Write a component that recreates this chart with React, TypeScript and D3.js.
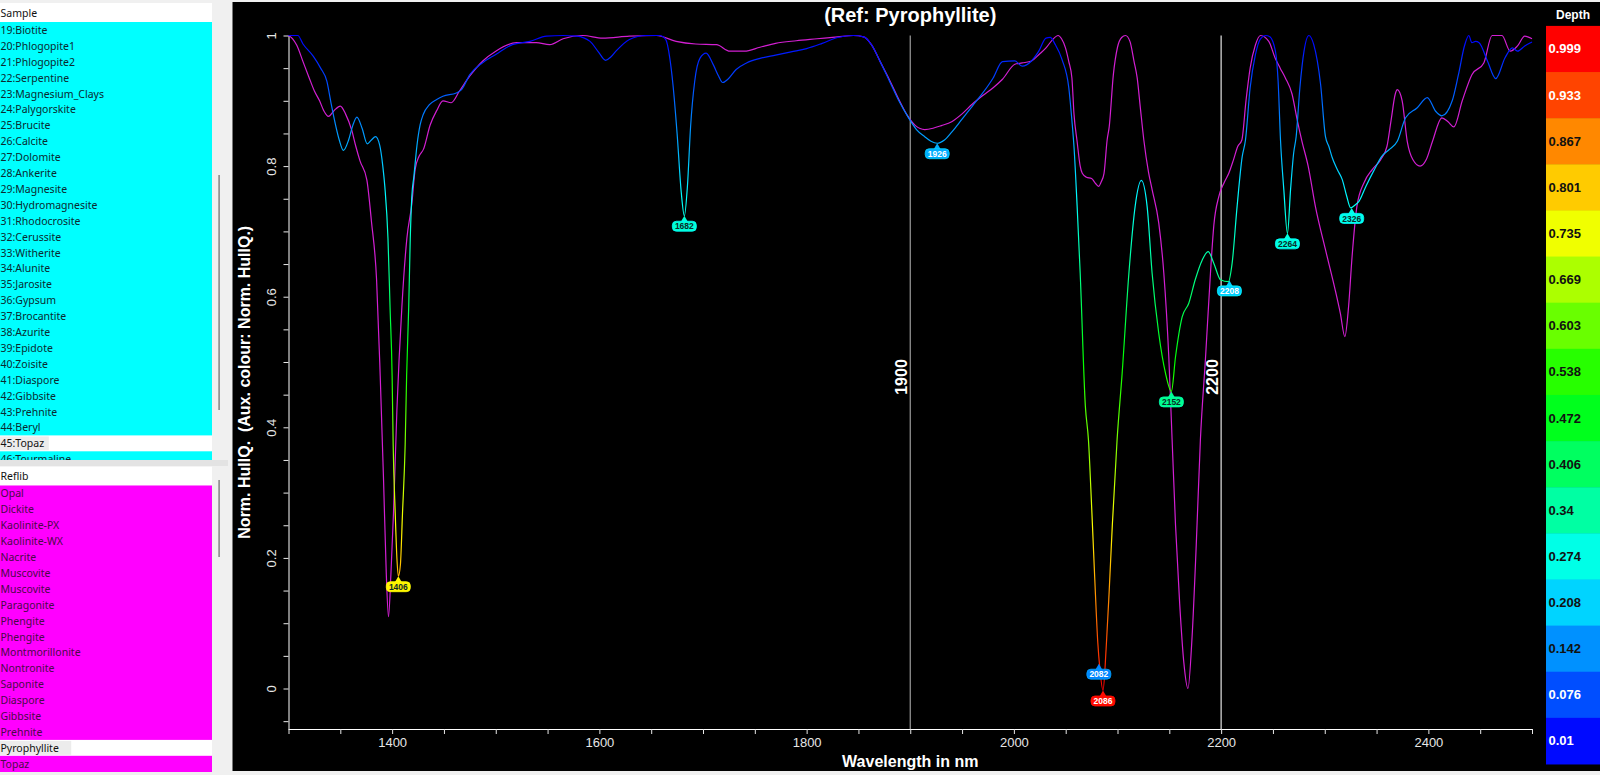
import { useEffect, useMemo, useRef } from 'react'
import * as d3 from 'd3'

const sampleItems = [
  '19:Biotite', '20:Phlogopite1', '21:Phlogopite2', '22:Serpentine', '23:Magnesium_Clays',
  '24:Palygorskite', '25:Brucite', '26:Calcite', '27:Dolomite', '28:Ankerite', '29:Magnesite',
  '30:Hydromagnesite', '31:Rhodocrosite', '32:Cerussite', '33:Witherite', '34:Alunite',
  '35:Jarosite', '36:Gypsum', '37:Brocantite', '38:Azurite', '39:Epidote', '40:Zoisite',
  '41:Diaspore', '42:Gibbsite', '43:Prehnite', '44:Beryl', '45:Topaz', '46:Tourmaline',
]
const reflibItems = [
  'Opal', 'Dickite', 'Kaolinite-PX', 'Kaolinite-WX', 'Nacrite', 'Muscovite', 'Muscovite',
  'Paragonite', 'Phengite', 'Phengite', 'Montmorillonite', 'Nontronite', 'Saponite', 'Diaspore',
  'Gibbsite', 'Prehnite', 'Pyrophyllite', 'Topaz',
]
const selectedSample = '45:Topaz'
const selectedRef = 'Pyrophyllite'

// sample spectrum (coloured by depth)
const sampleNm = [
  1300, 1309, 1314, 1324, 1331, 1337, 1341, 1345, 1349, 1353, 1358, 1362, 1366, 1371, 1376, 1380,
  1384, 1388, 1391, 1393, 1396, 1398, 1400, 1401, 1403, 1404.6, 1406, 1408, 1410, 1412.6, 1414,
  1416, 1417.5, 1419, 1421, 1424, 1427, 1430, 1436, 1443, 1449, 1462, 1467, 1475, 1487, 1500,
  1516, 1533, 1549, 1565, 1578, 1591, 1599, 1606, 1611, 1616, 1629, 1645, 1658, 1664, 1668, 1671,
  1675, 1679, 1682, 1685, 1688, 1692, 1697, 1703, 1710, 1715, 1719, 1724, 1732, 1742, 1755, 1770,
  1785, 1800, 1815, 1830, 1845, 1855, 1863, 1871, 1880, 1889, 1898, 1906, 1914, 1920, 1926, 1933,
  1940, 1950, 1960, 1970, 1980, 1989, 2001, 2008, 2017, 2024, 2031, 2035, 2040, 2046.5, 2053, 2056,
  2058, 2061, 2064, 2069, 2072, 2075, 2078, 2081, 2083, 2086, 2089, 2092, 2095, 2099.6, 2104.5,
  2111, 2117, 2123, 2128.6, 2133.4, 2139.8, 2146.3, 2152, 2156, 2162.4, 2168.8, 2175, 2181.7,
  2187.5, 2193, 2199.4, 2207, 2210.6, 2215.4, 2220.3, 2223.5, 2228, 2233, 2238, 2243, 2247,
  2252.4, 2255, 2257.3, 2260.5, 2264, 2267, 2270, 2272.4, 2276, 2280, 2284.6, 2289.4, 2296,
  2300.7, 2304, 2307, 2312, 2317, 2321, 2325, 2329, 2333, 2340, 2348, 2355, 2362, 2370, 2378,
  2389, 2399, 2407, 2413, 2423, 2429, 2435, 2439, 2442, 2445.5, 2449, 2457, 2465, 2474, 2481,
  2486, 2493, 2500,
]
const sampleVal = [
  1.0, 1.0, 0.987, 0.968, 0.95, 0.93, 0.897, 0.866, 0.84, 0.824, 0.84, 0.862, 0.875, 0.858, 0.834,
  0.84, 0.845, 0.832, 0.8, 0.768, 0.689, 0.584, 0.479, 0.374, 0.268, 0.2, 0.172, 0.19, 0.268, 0.374,
  0.479, 0.584, 0.689, 0.753, 0.784, 0.832, 0.863, 0.879, 0.894, 0.902, 0.907, 0.912, 0.917, 0.94,
  0.958, 0.971, 0.986, 0.991, 0.999, 1.0, 0.999, 0.991, 0.975, 0.962, 0.967, 0.976, 0.994, 1.0,
  1.0, 0.994, 0.965, 0.925, 0.85, 0.76, 0.724, 0.77, 0.86, 0.93, 0.965, 0.973, 0.955, 0.938,
  0.928, 0.933, 0.948, 0.958, 0.965, 0.97, 0.975, 0.98, 0.988, 0.997, 1.0, 0.998, 0.985, 0.96,
  0.93, 0.9, 0.875, 0.856, 0.845, 0.838, 0.835, 0.84, 0.852, 0.872, 0.892, 0.912, 0.935, 0.96,
  0.961, 0.953, 0.961, 0.976, 0.996, 0.997, 0.986, 0.963, 0.92, 0.87, 0.83, 0.74, 0.636, 0.432,
  0.38, 0.28, 0.17, 0.07, 0.03, -0.003, 0.06, 0.15, 0.25, 0.381, 0.483, 0.636, 0.738, 0.778,
  0.738, 0.636, 0.544, 0.483, 0.455, 0.508, 0.569, 0.59, 0.626, 0.656, 0.669, 0.651, 0.626, 0.623,
  0.651, 0.738, 0.814, 0.84, 0.92, 0.97, 0.995, 1.0, 0.998, 0.976, 0.93, 0.84, 0.764, 0.697, 0.764,
  0.82, 0.845, 0.92, 0.976, 1.0, 0.986, 0.925, 0.845, 0.83, 0.814, 0.795, 0.779, 0.755, 0.736,
  0.74, 0.746, 0.77, 0.795, 0.815, 0.825, 0.838, 0.874, 0.889, 0.905, 0.884, 0.877, 0.9, 0.94,
  0.985, 1.0, 0.989, 0.991, 0.989, 0.961, 0.934, 0.966, 0.981, 0.976, 0.984, 0.99,
]

// reference spectrum: Pyrophyllite
const refNm = [
  1300, 1304, 1308, 1314, 1320, 1325, 1330, 1334, 1338.6, 1344, 1350, 1355, 1361, 1365, 1369,
  1375.6, 1380, 1385, 1388.5, 1391.7, 1394.3, 1396.5, 1398.8, 1401.3, 1404.6, 1409.4, 1414.2,
  1419, 1422.2, 1426, 1430.3, 1436.7, 1443, 1449, 1457, 1465, 1475, 1487.5, 1500, 1520, 1539,
  1552, 1565, 1584, 1603, 1629, 1655, 1674, 1693, 1713, 1726, 1740, 1755, 1770, 1790, 1810, 1830,
  1845, 1855, 1863, 1871, 1880, 1889, 1897, 1905, 1914, 1922, 1930, 1940, 1950, 1960, 1970, 1980,
  1989, 2001, 2008, 2017, 2025, 2031, 2037, 2042.7, 2046, 2049.8, 2053, 2056, 2058, 2061, 2064,
  2066, 2070, 2075, 2079, 2082, 2084, 2087, 2090, 2092, 2096, 2100, 2104, 2107.7, 2112, 2116,
  2119, 2122, 2125.4, 2130, 2133.4, 2139.8, 2144.7, 2149.5, 2152.7, 2156, 2160, 2164, 2168, 2172,
  2176, 2180, 2185, 2189.7, 2193, 2197.7, 2203, 2207.4, 2212, 2216, 2220, 2224, 2228, 2233, 2238,
  2246, 2252, 2257, 2262, 2268.5, 2273, 2278, 2284, 2291, 2300.7, 2310, 2315, 2319.4, 2323,
  2326.4, 2331, 2338, 2346, 2354, 2360, 2364, 2368, 2370, 2374.7, 2379.6, 2385, 2392, 2398, 2404,
  2413, 2419, 2424.6, 2432.7, 2442, 2453.5, 2461.5, 2471, 2479, 2486, 2493, 2500,
]
const refVal = [
  1.0, 0.995, 0.985, 0.96, 0.935, 0.915, 0.9, 0.885, 0.876, 0.885, 0.892, 0.88, 0.855, 0.83, 0.808,
  0.779, 0.716, 0.626, 0.479, 0.321, 0.179, 0.11, 0.174, 0.268, 0.426, 0.584, 0.689, 0.742, 0.795,
  0.815, 0.826, 0.863, 0.885, 0.9, 0.897, 0.915, 0.938, 0.961, 0.976, 0.989, 0.989, 0.986, 0.995,
  1.0, 0.996, 0.999, 1.0, 0.991, 0.987, 0.986, 0.976, 0.976, 0.982, 0.988, 0.992, 0.995, 0.998,
  1.0, 0.998, 0.985, 0.96, 0.932, 0.902, 0.878, 0.862, 0.856, 0.858, 0.862, 0.868, 0.88, 0.895,
  0.908, 0.92, 0.933, 0.956, 0.958, 0.961, 0.972, 0.981, 0.993, 1.0, 0.995, 0.981, 0.96, 0.935,
  0.88, 0.838, 0.8, 0.789, 0.783, 0.781, 0.773, 0.769, 0.775, 0.789, 0.84, 0.86, 0.94, 0.982,
  0.997, 1.0, 0.991, 0.96, 0.935, 0.89, 0.84, 0.79, 0.764, 0.713, 0.636, 0.508, 0.381, 0.25, 0.13,
  0.04, 0.0, 0.08, 0.22, 0.381, 0.508, 0.636, 0.71, 0.753, 0.775, 0.789, 0.81, 0.83, 0.84, 0.9,
  0.95, 0.985, 1.0, 0.991, 0.966, 0.95, 0.935, 0.91, 0.874, 0.838, 0.8, 0.738, 0.672, 0.611, 0.575,
  0.539, 0.585, 0.662, 0.738, 0.775, 0.795, 0.81, 0.83, 0.87, 0.91, 0.917, 0.9, 0.838, 0.81, 0.8,
  0.81, 0.838, 0.874, 0.868, 0.86, 0.9, 0.94, 0.958, 1.0, 1.0, 0.976, 0.984, 0.999, 0.995,
]

// absorption feature markers
const markerNm = [1406, 1682, 1926, 2082, 2086, 2152, 2208, 2264, 2326]
const markerVal = [0.172, 0.724, 0.835, 0.038, -0.003, 0.455, 0.625, 0.697, 0.736]
const markerDepth = [0.76, 0.29, 0.17, 0.13, 0.99, 0.36, 0.2, 0.28, 0.27]

const depthTicks = [
  0.999, 0.933, 0.867, 0.801, 0.735, 0.669, 0.603, 0.538, 0.472, 0.406, 0.34, 0.274, 0.208, 0.142,
  0.076, 0.01,
]
const xMajorTicks = [1400, 1600, 1800, 2000, 2200, 2400]
const guideNm = [1900, 2200]

const W = 1600
const H = 775
const box = { left: 288.5, right: 1532, top: 35.5, bottom: 729 }
const plotFont = '"Liberation Sans", Arial, sans-serif'
const listFont = '"Noto Sans", "Open Sans", sans-serif'

function depthColor(d: number): string {
  return d3.hsl(240 * (1 - Math.max(0, Math.min(1, d))), 1, 0.5).formatHex()
}

function ListPanel({ top, title, items, selected, fill, textColor, thumb }: {
  top: number
  title: string
  items: string[]
  selected: string
  fill: string
  textColor: string
  thumb: [number, number]
}) {
  const rowH = 15.9
  const headH = 19
  const bottom = top === 3 ? 460 : 772
  const clipId = `clip-${title}`
  return (
    <g>
      <clipPath id={clipId}>
        <rect x={0} y={top} width={212} height={bottom - top} />
      </clipPath>
      <g clipPath={`url(#${clipId})`}>
        <rect x={0} y={top} width={212} height={headH} fill="#ffffff" />
        <text x={0.5} y={top + headH / 2} dominantBaseline="central" fontSize={10.5} fontFamily={listFont} fill="#111">
          {title}
        </text>
        <rect x={0} y={top + headH} width={212} height={bottom - top - headH} fill={fill} />
        {items.map((name, i) => {
          const y0 = top + headH + i * rowH
          const sel = name === selected
          return (
            <g key={`${name}-${i}`}>
              {sel && <rect x={0} y={y0} width={212} height={rowH} fill="#ffffff" />}
              {sel && <rect x={0} y={y0 + 1} width={name.length * 5.6 + 4} height={rowH - 2} fill="#ececec" />}
              <text x={0.5} y={y0 + rowH / 2} dominantBaseline="central" fontSize={10.5} fontFamily={listFont} fill={sel ? '#111' : textColor}>
                {name}
              </text>
            </g>
          )
        })}
      </g>
      <rect x={212} y={top} width={16} height={bottom - top} fill="#f0f0f0" />
      <rect x={218.3} y={thumb[0]} width={1.6} height={thumb[1] - thumb[0]} fill="#8a8a8a" />
    </g>
  )
}

export default function App() {
  const xAxisRef = useRef<SVGGElement | null>(null)
  const yAxisRef = useRef<SVGGElement | null>(null)

  const x = useMemo(() => d3.scaleLinear().domain([1300, 2500]).range([box.left, box.right]), [])
  const y = useMemo(() => d3.scaleLinear().domain([-0.062, 1]).range([box.bottom, box.top]), [])

  const samplePath = useMemo(() => {
    const line = d3
      .line<number>()
      .x((_, i) => x(sampleNm[i]))
      .y((d) => y(d))
      .curve(d3.curveMonotoneX)
    return line(sampleVal) ?? ''
  }, [x, y])

  const refPath = useMemo(() => {
    const line = d3
      .line<number>()
      .x((_, i) => x(refNm[i]))
      .y((d) => y(d))
      .curve(d3.curveMonotoneX)
    return line(refVal) ?? ''
  }, [x, y])

  useEffect(() => {
    if (!xAxisRef.current || !yAxisRef.current) return
    const xTickVals = d3.range(0, 25).map((i) => 1300 + i * 50)
    const xAxis = d3
      .axisBottom(x)
      .tickValues(xTickVals)
      .tickSize(5)
      .tickPadding(4)
      .tickFormat((d) => (xMajorTicks.includes(+d) ? String(d) : ''))
    const gx = d3.select(xAxisRef.current)
    gx.call(xAxis)
    gx.select('.domain').attr('stroke', '#ffffff').attr('d', `M${box.left},0.5H${box.right}`)
    gx.selectAll('.tick line').attr('stroke', '#e8e8e8')
    gx.selectAll('.tick text').attr('fill', '#e6e6e6').attr('font-size', 13).attr('font-family', plotFont)

    const yTickVals = d3.range(-1, 21).map((i) => +(i * 0.05).toFixed(2))
    const yAxis = d3
      .axisLeft(y)
      .tickValues(yTickVals)
      .tickSize(5)
      .tickFormat((d) => {
        const v = +d
        return Math.abs(v * 5 - Math.round(v * 5)) < 1e-6 && v >= 0 ? d3.format('~g')(v) : ''
      })
    const gy = d3.select(yAxisRef.current)
    gy.call(yAxis)
    gy.select('.domain').attr('stroke', '#ffffff').attr('d', `M0.5,${box.top}V${box.bottom}`)
    gy.selectAll('.tick line').attr('stroke', '#e8e8e8')
    gy.selectAll<SVGTextElement, number>('.tick text')
      .attr('fill', '#e6e6e6')
      .attr('font-size', 13)
      .attr('font-family', plotFont)
      .attr('x', null)
      .attr('dy', null)
      .attr('text-anchor', 'middle')
      .attr('dominant-baseline', 'central')
      .attr('transform', 'translate(-17,0) rotate(-90)')
  }, [x, y])

  const gradStops = d3.range(0, 17).map((i) => i / 16)
  const legendTop = 25.9
  const legendH = 46.13

  return (
    <svg width={W} height={H} viewBox={`0 0 ${W} ${H}`} style={{ position: 'absolute', left: 0, top: 0, display: 'block' }}>
      <defs>
        <linearGradient id="depthGrad" gradientUnits="userSpaceOnUse" x1={0} x2={0} y1={y(1)} y2={y(0)}>
          {gradStops.map((t) => (
            <stop key={t} offset={t} stopColor={depthColor(t)} />
          ))}
        </linearGradient>
      </defs>

      <rect x={0} y={0} width={W} height={H} fill="#f0f0f0" />

      <ListPanel top={3} title="Sample" items={sampleItems} selected={selectedSample} fill="#00ffff" textColor="#0b2a30" thumb={[175, 410]} />
      <rect x={0} y={460} width={228} height={6} fill="#e3e3e3" />
      <ListPanel top={466.5} title="Reflib" items={reflibItems} selected={selectedRef} fill="#ff00ff" textColor="#4a0a48" thumb={[480, 557]} />

      <rect x={232.5} y={2} width={W - 232.5} height={769} fill="#000000" />

      <text x={(box.left + box.right) / 2} y={15} textAnchor="middle" dominantBaseline="central" fill="#ffffff" fontSize={20} fontWeight="bold" fontFamily={plotFont}>
        (Ref: Pyrophyllite)
      </text>

      {guideNm.map((nm, i) => (
        <g key={nm}>
          <line x1={x(nm)} x2={x(nm)} y1={y(1)} y2={box.bottom} stroke={i === 0 ? '#9c9c9c' : '#e4e4e4'} strokeWidth={1.2} />
          <text transform={`translate(${x(nm) - 9},377) rotate(-90)`} textAnchor="middle" dominantBaseline="central" fill="#ffffff" fontSize={16} fontWeight="bold" fontFamily={plotFont}>
            {nm}
          </text>
        </g>
      ))}

      <g ref={xAxisRef} transform={`translate(0,${box.bottom})`} />
      <g ref={yAxisRef} transform={`translate(${box.left},0)`} />

      <text transform={`translate(244,${(box.top + box.bottom) / 2}) rotate(-90)`} textAnchor="middle" dominantBaseline="central" fill="#ffffff" fontSize={16} fontWeight="bold" fontFamily={plotFont} style={{ whiteSpace: 'pre' }}>
        {'Norm. HullQ.  (Aux. colour: Norm. HullQ.)'}
      </text>
      <text x={(box.left + box.right) / 2} y={761} textAnchor="middle" dominantBaseline="central" fill="#ffffff" fontSize={16} fontWeight="bold" fontFamily={plotFont}>
        Wavelength in nm
      </text>

      <path d={refPath} fill="none" stroke="#d21fd2" strokeWidth={1.2} />
      <path d={samplePath} fill="none" stroke="url(#depthGrad)" strokeWidth={1.2} />

      {markerNm.map((nm, i) => {
        const px = x(nm)
        const py = y(markerVal[i])
        const c = depthColor(markerDepth[i])
        const light = markerDepth[i] < 0.22 || markerDepth[i] > 0.9
        return (
          <g key={`${nm}-${i}`}>
            <path d={`M${px},${py} l-3.5,6 h7 z`} fill={c} />
            <rect x={px - 12} y={py + 5.5} width={24} height={10} rx={4} fill={c} stroke={d3.color(c)?.brighter(0.6).formatHex()} strokeWidth={0.8} />
            <text x={px} y={py + 10.7} textAnchor="middle" dominantBaseline="central" fontSize={8.5} fontWeight="bold" fontFamily={plotFont} fill={light ? '#ffffff' : '#0a2a2a'}>
              {nm}
            </text>
          </g>
        )
      })}

      <text x={1573} y={15} textAnchor="middle" dominantBaseline="central" fill="#ffffff" fontSize={12} fontWeight="bold" fontFamily={plotFont}>
        Depth
      </text>
      {depthTicks.map((v, i) => (
        <g key={v}>
          <rect x={1546} y={legendTop + i * legendH} width={W - 1546} height={legendH + 0.5} fill={depthColor(v)} />
          <text x={1548.5} y={legendTop + i * legendH + legendH / 2} dominantBaseline="central" fontSize={13} fontWeight="bold" fontFamily={plotFont} fill={v > 0.9 || v < 0.1 ? '#ffffff' : '#111111'}>
            {v}
          </text>
        </g>
      ))}
    </svg>
  )
}
